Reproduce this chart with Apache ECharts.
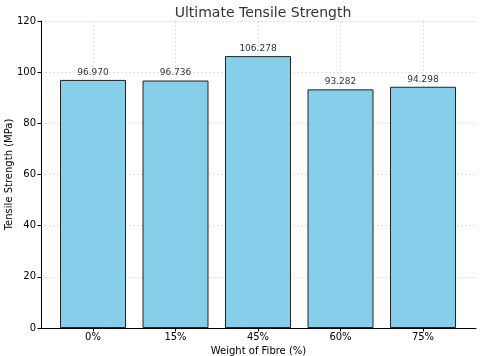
<!DOCTYPE html>
<html><head><meta charset="utf-8">
<script src="https://cdn.jsdelivr.net/npm/echarts@6/dist/echarts.min.js"></script>
<style>html,body{margin:0;padding:0;background:#fff}#c{width:480px;height:356px}</style>
</head><body><div id="c"></div>
<script>
const categories = ['0%', '15%', '45%', '60%', '75%'];
const strength = [96.970, 96.736, 106.278, 93.282, 94.298];
const yTicks = [0, 20, 40, 60, 80, 100, 120];

const font = 'DejaVu Sans';
const chart = echarts.init(document.getElementById('c'), null, {renderer: 'canvas'});
chart.setOption({
  animation: false,
  backgroundColor: '#fff',
  title: {
    text: 'Ultimate Tensile Strength', left: 258, top: 1, textAlign: 'center',
    textStyle: {fontFamily: font, fontSize: 14, fontWeight: 'normal', color: '#333'}
  },
  grid: [
    {left: 41, right: 4, top: 21, bottom: 28, outerBoundsMode: 'none', containLabel: false},
    {left: 93, right: 57, top: 21, bottom: 28, outerBoundsMode: 'none', containLabel: false}
  ],
  xAxis: [
    {gridIndex: 0, type: 'value', min: 0, max: 1,
     axisLine: {show: true, lineStyle: {color: '#000', width: 1}},
     axisTick: {show: false}, axisLabel: {show: false}, splitLine: {show: false},
     name: 'Weight of Fibre (%)', nameLocation: 'middle', nameGap: 18, nameMoveOverlap: false,
     nameTextStyle: {fontFamily: font, fontSize: 10, color: '#000'}},
    {gridIndex: 1, type: 'category', data: categories, boundaryGap: false,
     axisLine: {show: false},
     axisTick: {show: true, length: 3.5, lineStyle: {color: '#000'}},
     axisLabel: {fontFamily: font, fontSize: 10, color: '#000', margin: 4},
     splitLine: {show: true, lineStyle: {color: '#ccc', type: [2, 2], width: 0.6}}}
  ],
  yAxis: [
    {gridIndex: 0, type: 'value', min: yTicks[0], max: yTicks[yTicks.length - 1], interval: 20,
     axisLine: {show: true, lineStyle: {color: '#000', width: 1}},
     axisTick: {show: true, length: 3.5, lineStyle: {color: '#000'}},
     axisLabel: {fontFamily: font, fontSize: 10, color: '#000', margin: 5},
     splitLine: {show: true, lineStyle: {color: '#ccc', type: [2, 2], width: 0.6}},
     name: 'Tensile Strength (MPa)', nameLocation: 'middle', nameGap: 27, nameMoveOverlap: false,
     nameTextStyle: {fontFamily: font, fontSize: 10, color: '#000'}},
    {gridIndex: 1, type: 'value', min: yTicks[0], max: yTicks[yTicks.length - 1], show: false}
  ],
  series: [{
    type: 'bar', xAxisIndex: 1, yAxisIndex: 1, data: strength, barWidth: 66, clip: false,
    itemStyle: {color: '#87CEEB', borderColor: '#222', borderWidth: 1},
    label: {show: true, position: 'top', distance: 3, fontFamily: font, fontSize: 9, color: '#333',
            formatter: p => p.value.toFixed(3)}
  }]
});
</script></body></html>
